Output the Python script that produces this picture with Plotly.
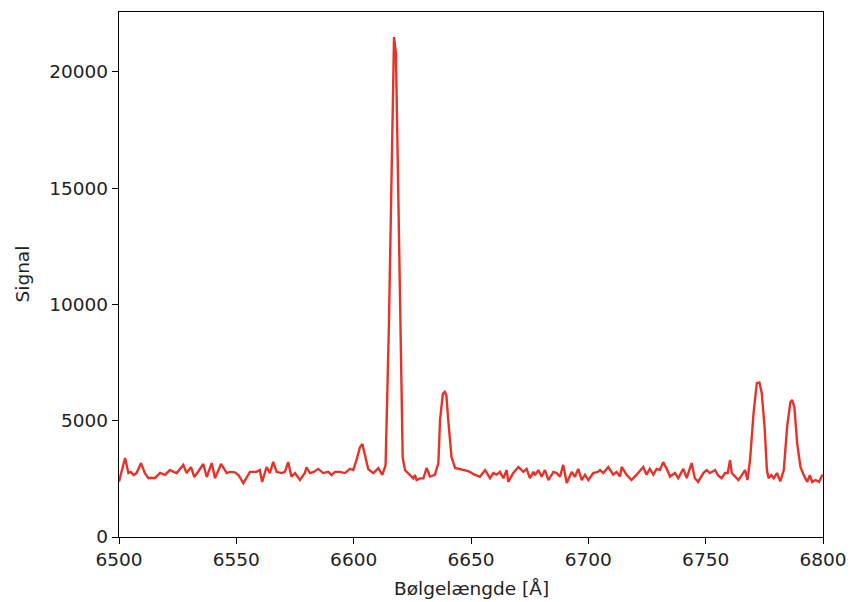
import plotly.graph_objects as go

wavelength = [
    6500.0, 6501.0, 6502.6, 6504.0, 6505.0, 6506.2, 6507.5, 6509.4, 6511.0, 6512.5,
    6514.0, 6515.3, 6517.5, 6519.6, 6521.7, 6523.2, 6524.6, 6527.4, 6528.8, 6530.7,
    6532.1, 6534.0, 6535.9, 6537.4, 6539.5, 6540.9, 6543.5, 6545.9, 6547.3, 6549.4,
    6551.0, 6553.0, 6555.8, 6558.6, 6560.0, 6561.0, 6562.9, 6564.3, 6565.7, 6567.2,
    6569.3, 6570.7, 6572.1, 6573.5, 6575.0, 6577.1, 6579.2, 6579.9, 6581.4, 6583.0,
    6584.9, 6587.0, 6589.2, 6590.6, 6592.0, 6594.1, 6596.3, 6598.4, 6599.8, 6601.2,
    6602.7, 6603.7, 6605.0, 6606.2, 6608.4, 6610.5, 6612.2, 6613.6, 6615.0, 6616.5,
    6617.2, 6618.0, 6619.5, 6620.9, 6621.9, 6624.0, 6625.4, 6626.1, 6626.8, 6628.3,
    6629.7, 6631.1, 6632.5, 6634.6, 6636.1, 6636.8, 6638.0, 6638.8, 6639.5, 6640.3,
    6641.7, 6643.2, 6646.0, 6648.8, 6650.3, 6651.0, 6653.8, 6656.0, 6658.1, 6659.5,
    6660.9, 6662.3, 6663.8, 6665.2, 6665.9, 6668.0, 6670.2, 6672.3, 6673.7, 6675.1,
    6676.6, 6677.3, 6678.7, 6680.1, 6681.5, 6683.0, 6685.1, 6686.5, 6687.9, 6689.3,
    6690.8, 6692.9, 6694.3, 6695.7, 6697.2, 6698.6, 6700.0, 6702.1, 6704.0, 6705.0,
    6706.4, 6708.5, 6710.6, 6712.0, 6713.5, 6714.2, 6716.3, 6718.4, 6720.6, 6723.4,
    6724.8, 6726.2, 6727.7, 6729.1, 6730.5, 6731.9, 6733.4, 6734.8, 6736.9, 6738.3,
    6740.5, 6741.9, 6744.0, 6745.4, 6746.8, 6749.0, 6750.4, 6751.8, 6754.0, 6755.4,
    6756.8, 6758.3, 6759.4, 6760.4, 6761.1, 6762.5, 6764.0, 6765.4, 6766.8, 6767.8,
    6768.9, 6770.4, 6771.8, 6772.9, 6773.9, 6775.1, 6776.1, 6776.8, 6778.0, 6779.0,
    6780.4, 6781.8, 6783.3, 6784.7, 6786.1, 6786.8, 6787.8, 6789.0, 6790.4, 6791.8,
    6793.3, 6794.4, 6795.4, 6796.8, 6798.3, 6799.7, 6800.0,
]

signal = [
    2380, 2750, 3400, 2750, 2800, 2670, 2750, 3180, 2750, 2530,
    2550, 2530, 2760, 2670, 2880, 2800, 2750, 3100, 2750, 3010,
    2580, 2850, 3140, 2580, 3180, 2530, 3140, 2750, 2800, 2780,
    2650, 2320, 2800, 2800, 2880, 2370, 3010, 2750, 3230, 2800,
    2750, 2800, 3220, 2590, 2750, 2450, 2750, 3000, 2750, 2800,
    2930, 2750, 2800, 2660, 2800, 2800, 2750, 2930, 2880, 3310,
    3870, 4000, 3400, 2920, 2750, 2960, 2670, 3090, 9000, 18500,
    21500, 20800, 12000, 3400, 2870, 2670, 2520, 2670, 2450, 2520,
    2520, 2970, 2600, 2670, 3180, 5030, 6150, 6240, 6100, 5030,
    3440, 2970, 2900, 2830, 2750, 2700, 2590, 2880, 2530, 2750,
    2680, 2800, 2530, 2880, 2370, 2750, 3010, 2800, 2930, 2530,
    2800, 2660, 2880, 2590, 2880, 2450, 2800, 2750, 2590, 3100,
    2320, 2800, 2590, 2930, 2450, 2680, 2450, 2750, 2800, 2880,
    2750, 3010, 2680, 2800, 2600, 3010, 2680, 2450, 2680, 3010,
    2680, 2930, 2680, 2930, 2880, 3220, 2930, 2600, 2750, 2530,
    2930, 2530, 3180, 2530, 2370, 2750, 2880, 2750, 2880, 2640,
    2530, 2750, 2750, 3310, 2750, 2600, 2450, 2660, 2880, 2450,
    3300, 5320, 6620, 6650, 6190, 4750, 2880, 2530, 2660, 2530,
    2750, 2390, 2880, 4740, 5800, 5900, 5590, 4030, 3010, 2660,
    2370, 2660, 2370, 2450, 2370, 2660, 2600,
]

x_ticks = [6500, 6550, 6600, 6650, 6700, 6750, 6800]
y_ticks = [0, 5000, 10000, 15000, 20000]
x_label = "Bølgelængde [Å]"
y_label = "Signal"

FONT = "DejaVu Sans"
FS = 18.5
TXT = "#222"

fig = go.Figure()
fig.add_trace(go.Scatter(
    x=wavelength, y=signal, mode="lines",
    line=dict(color="#e5332a", width=2.4),
    showlegend=False,
))

axis_common = dict(
    showline=True, linecolor="black", linewidth=1.3, mirror=True,
    ticks="outside", ticklen=6, tickwidth=1.3, tickcolor="black",
    showgrid=False, zeroline=False, automargin=False,
    tickfont=dict(family=FONT, size=FS, color=TXT),
)

fig.update_layout(
    width=850, height=602,
    margin=dict(l=119, r=27, t=12, b=65),
    paper_bgcolor="white", plot_bgcolor="white",
    font=dict(family=FONT, size=FS, color=TXT),
    xaxis=dict(range=[6500, 6800], tickvals=x_ticks,
               ticktext=[str(v) for v in x_ticks], **axis_common),
    yaxis=dict(range=[0, 22580], tickvals=y_ticks,
               ticktext=[str(v) for v in y_ticks], **axis_common),
)

# axis titles placed as annotations relative to the plot area
fig.add_annotation(text=x_label, xref="paper", yref="paper", x=0.5, y=0,
                   yshift=-51, xanchor="center", yanchor="middle",
                   showarrow=False, font=dict(family=FONT, size=FS, color=TXT))
fig.add_annotation(text=y_label, xref="paper", yref="paper", x=0, y=0.5,
                   xshift=-97, xanchor="center", yanchor="middle", textangle=-90,
                   showarrow=False, font=dict(family=FONT, size=FS, color=TXT))

fig.write_html("out.html")
